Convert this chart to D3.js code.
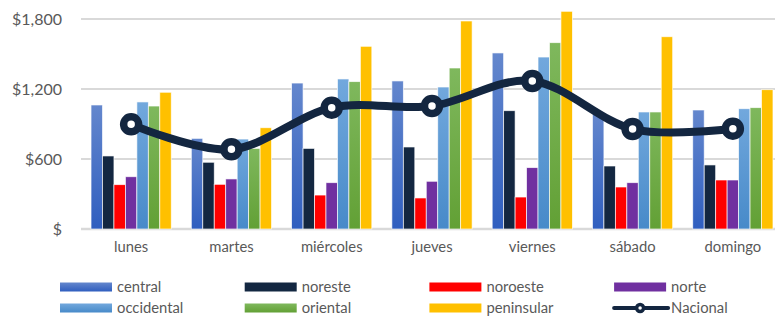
<!DOCTYPE html>
<html>
<head>
<meta charset="utf-8">
<script src="https://cdn.jsdelivr.net/npm/d3@7"></script>
<style>
    body { margin: 0; background: #fff; }
    #chart-area { width: 775px; height: 318px; overflow: hidden; }
    svg { display: block; font-family: Lato, "Open Sans", sans-serif; }
    .tick-label { fill: #595959; }
</style>
</head>
<body>
<div id="chart-area"></div>
<script>
// days of the week (categories)
const days = ["lunes", "martes", "miércoles", "jueves", "viernes", "sábado", "domingo"];

// one array per region (bars), values in $
const central    = [1063, 777, 1251, 1269, 1509, 1000, 1020];
const noreste    = [626, 572, 691, 703, 1014, 540, 549];
const noroeste   = [380, 383, 291, 266, 274, 360, 420];
const norte      = [448, 429, 397, 409, 526, 397, 420];
const occidental = [1089, 771, 1286, 1217, 1474, 1003, 1031];
const oriental   = [1054, 691, 1263, 1380, 1597, 1003, 1040];
const peninsular = [1172, 868, 1566, 1783, 1866, 1648, 1194];

// national average (line)
const nacional = [897, 683, 1040, 1054, 1269, 857, 860];

const yTicks = [0, 600, 1200, 1800];

const regionNames = ["central", "noreste", "noroeste", "norte", "occidental", "oriental", "peninsular"];
const regionValues = [central, noreste, noroeste, norte, occidental, oriental, peninsular];

// fill colours: [top, bottom] of a vertical gradient
const regionColors = {
    central:    ["#6487cd", "#2f5ebf"],
    noreste:    ["#132741", "#132741"],
    noroeste:   ["#ff0000", "#ff0000"],
    norte:      ["#7030a0", "#7030a0"],
    occidental: ["#72a8dd", "#478ac9"],
    oriental:   ["#7fb85d", "#62a035"],
    peninsular: ["#ffc000", "#ffc000"]
};
const lineColor = "#132640";

class ComboVis {
    constructor(parentElement) {
        this.parentElement = parentElement;
        this.initVis();
    }

    initVis() {
        let vis = this;

        vis.width = 775;
        vis.height = 318;

        vis.svg = d3.select("#" + vis.parentElement).append("svg")
            .attr("width", vis.width)
            .attr("height", vis.height);

        // gradients for the bar fills
        let defs = vis.svg.append("defs");
        regionNames.forEach(name => {
            let grad = defs.append("linearGradient")
                .attr("id", "grad-" + name)
                .attr("x1", 0).attr("y1", 0).attr("x2", 0).attr("y2", 1);
            grad.append("stop").attr("offset", "0%").attr("stop-color", regionColors[name][0]);
            grad.append("stop").attr("offset", "100%").attr("stop-color", regionColors[name][1]);
        });

        // scales (plot runs past the right edge, like the original)
        vis.x0 = d3.scaleBand()
            .domain(days)
            .range([81, 783])
            .paddingInner(0.2)
            .paddingOuter(0.1);

        vis.x1 = d3.scaleBand()
            .domain(regionNames)
            .range([0, vis.x0.bandwidth()]);

        vis.y = d3.scaleLinear()
            .domain([0, 1800])
            .range([229, 19]);

        vis.wrangleData();
    }

    wrangleData() {
        let vis = this;

        vis.barData = [];
        days.forEach((day, i) => {
            regionNames.forEach((name, j) => {
                vis.barData.push({ day: day, region: name, value: regionValues[j][i] });
            });
        });

        vis.lineData = days.map((day, i) => ({ day: day, value: nacional[i] }));

        vis.updateVis();
    }

    updateVis() {
        let vis = this;
        let x0 = vis.x0, x1 = vis.x1, y = vis.y;

        // gridlines
        vis.svg.append("g")
            .selectAll("line")
            .data(yTicks)
            .enter()
            .append("line")
            .attr("x1", x0.range()[0])
            .attr("x2", x0.range()[1])
            .attr("y1", d => y(d))
            .attr("y2", d => y(d))
            .attr("stroke", "#d9d9d9")
            .attr("stroke-width", d => d === 0 ? 2.5 : 1.8);

        // y axis labels
        let yAxis = d3.axisLeft(y)
            .tickValues(yTicks)
            .tickSize(0)
            .tickPadding(0)
            .tickFormat(d => d === 0 ? "$" : "$" + d3.format(",")(d));

        let yg = vis.svg.append("g")
            .attr("transform", "translate(62,0)")
            .call(yAxis);
        yg.select(".domain").remove();
        yg.selectAll("text")
            .attr("class", "tick-label")
            .style("font-size", "16px")
            .style("font-family", "Lato, sans-serif")
            .attr("dy", "0.35em");

        // x axis labels
        let xAxis = d3.axisBottom(x0).tickSize(0).tickPadding(0);
        let xg = vis.svg.append("g")
            .attr("transform", "translate(0,241)")
            .call(xAxis);
        xg.select(".domain").remove();
        xg.selectAll("text")
            .attr("class", "tick-label")
            .style("font-size", "14.8px")
            .style("font-family", "Lato, sans-serif")
            .attr("dy", "0.71em");

        // bars
        vis.svg.append("g")
            .selectAll(".bar")
            .data(vis.barData)
            .enter()
            .append("rect")
            .attr("class", "bar")
            .attr("x", d => x0(d.day) + x1(d.region))
            .attr("y", d => y(d.value))
            .attr("width", x1.bandwidth())
            .attr("height", d => y(0) - y(d.value))
            .attr("fill", d => "url(#grad-" + d.region + ")")
            .attr("stroke", "#ffffff")
            .attr("stroke-opacity", 0.8)
            .attr("stroke-width", 0.8);

        // national line
        let line = d3.line()
            .x(d => x0(d.day) + x0.bandwidth() / 2)
            .y(d => y(d.value))
            .curve(d3.curveCardinal.tension(0));

        vis.svg.append("path")
            .datum(vis.lineData)
            .attr("d", line)
            .attr("fill", "none")
            .attr("stroke", lineColor)
            .attr("stroke-width", 8)
            .attr("stroke-linecap", "round");

        vis.svg.append("g")
            .selectAll("circle")
            .data(vis.lineData)
            .enter()
            .append("circle")
            .attr("cx", d => x0(d.day) + x0.bandwidth() / 2)
            .attr("cy", d => y(d.value))
            .attr("r", 7.5)
            .attr("fill", "#ffffff")
            .attr("stroke", lineColor)
            .attr("stroke-width", 7.5);

        // legend: 4 columns x 2 rows
        let legendItems = ["central", "noreste", "noroeste", "norte", "occidental", "oriental", "peninsular", "Nacional"];
        let legend = vis.svg.append("g")
            .selectAll(".legend-item")
            .data(legendItems)
            .enter()
            .append("g")
            .attr("class", "legend-item")
            .attr("transform", (d, i) => `translate(${60 + (i % 4) * 184.7}, ${287 + Math.floor(i / 4) * 21})`);

        legend.filter(d => d !== "Nacional")
            .append("rect")
            .attr("x", 0)
            .attr("y", -4.5)
            .attr("width", 52)
            .attr("height", 9)
            .attr("fill", d => "url(#grad-" + d + ")");

        let nat = legend.filter(d => d === "Nacional");
        nat.append("line")
            .attr("x1", 0).attr("x2", 54)
            .attr("y1", 0).attr("y2", 0)
            .attr("stroke", lineColor)
            .attr("stroke-width", 4)
            .attr("stroke-linecap", "round");
        nat.append("circle")
            .attr("cx", 26)
            .attr("cy", 0)
            .attr("r", 3.5)
            .attr("fill", "#ffffff")
            .attr("stroke", lineColor)
            .attr("stroke-width", 3.5);

        legend.append("text")
            .attr("class", "tick-label")
            .attr("x", d => d === "Nacional" ? 57 : 57)
            .attr("y", 0)
            .attr("dy", "0.35em")
            .style("font-size", "14.8px")
            .text(d => d);
    }
}

new ComboVis("chart-area");
</script>
</body>
</html>
